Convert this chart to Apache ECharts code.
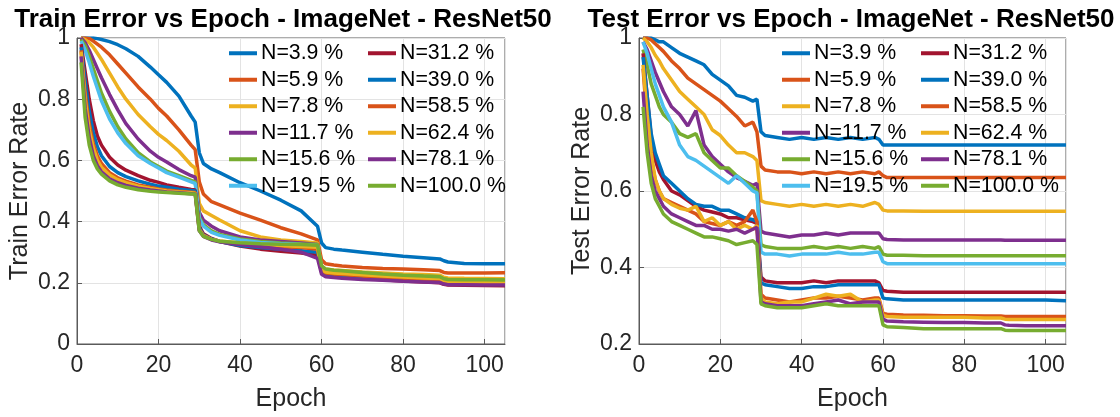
<!DOCTYPE html>
<html>
<head>
<meta charset="utf-8">
<script src="https://cdn.jsdelivr.net/npm/echarts@6/dist/echarts.min.js"></script>
<style>html,body{margin:0;padding:0;background:#fff}#c{width:1120px;height:417px}</style>
</head>
<body>
<div id="c"></div>
<script>
const NAMES = ['N=3.9 %','N=5.9 %','N=7.8 %','N=11.7 %','N=15.6 %','N=19.5 %','N=31.2 %','N=39.0 %','N=58.5 %','N=62.4 %','N=78.1 %','N=100.0 %'];
const COLORS = ['#0072BD','#D95319','#EDB120','#7E2F8E','#77AC30','#4DBEEE','#A2142F','#0072BD','#D95319','#EDB120','#7E2F8E','#77AC30'];
const X_TICKS = [0,20,40,60,80,100];

// Train error, epochs
const E_TRAIN = [1,2,3,4,5,6,8,10,12,15,18,20,22,25,28,29,30,31,33,35,40,45,50,55,59,60,61,63,65,70,75,80,85,89,90,91,95,100,105];
const TR_N3_9 = [1.0,1.0,1.0,1.0,0.998,0.995,0.988,0.978,0.965,0.94,0.905,0.88,0.855,0.81,0.745,0.725,0.625,0.59,0.572,0.56,0.527,0.5,0.47,0.435,0.385,0.33,0.315,0.31,0.307,0.3,0.293,0.287,0.282,0.278,0.272,0.268,0.263,0.262,0.262];
const TR_N5_9 = [1.0,1.0,0.998,0.99,0.98,0.97,0.945,0.915,0.885,0.84,0.8,0.77,0.745,0.7,0.65,0.635,0.53,0.49,0.465,0.455,0.428,0.405,0.38,0.36,0.34,0.275,0.262,0.258,0.255,0.25,0.247,0.245,0.243,0.24,0.234,0.232,0.232,0.232,0.233];
const TR_N7_8 = [1.0,0.995,0.985,0.97,0.95,0.93,0.885,0.84,0.8,0.75,0.71,0.685,0.665,0.63,0.585,0.575,0.46,0.435,0.42,0.405,0.37,0.35,0.34,0.335,0.33,0.255,0.245,0.242,0.24,0.235,0.232,0.229,0.227,0.225,0.218,0.216,0.215,0.214,0.213];
const TR_N11_7 = [1.0,0.985,0.96,0.93,0.9,0.87,0.815,0.765,0.72,0.67,0.63,0.61,0.595,0.57,0.55,0.545,0.43,0.405,0.385,0.37,0.35,0.34,0.335,0.33,0.325,0.25,0.24,0.237,0.235,0.23,0.226,0.222,0.22,0.218,0.21,0.208,0.207,0.206,0.205];
const TR_N15_6 = [0.995,0.975,0.94,0.9,0.86,0.82,0.76,0.71,0.67,0.625,0.595,0.58,0.565,0.55,0.535,0.53,0.415,0.39,0.37,0.358,0.343,0.335,0.33,0.327,0.325,0.25,0.24,0.237,0.235,0.23,0.226,0.223,0.221,0.22,0.212,0.21,0.209,0.209,0.208];
const TR_N19_5 = [0.99,0.96,0.92,0.875,0.835,0.795,0.735,0.69,0.655,0.615,0.59,0.575,0.56,0.545,0.53,0.525,0.41,0.385,0.365,0.355,0.34,0.332,0.328,0.325,0.322,0.248,0.238,0.235,0.233,0.228,0.224,0.221,0.219,0.218,0.21,0.208,0.207,0.207,0.206];
const TR_N31_2 = [0.98,0.89,0.8,0.73,0.68,0.65,0.61,0.585,0.568,0.55,0.535,0.528,0.52,0.512,0.505,0.503,0.385,0.36,0.345,0.335,0.32,0.31,0.303,0.297,0.29,0.235,0.225,0.222,0.22,0.215,0.21,0.206,0.203,0.2,0.195,0.193,0.192,0.191,0.19];
const TR_N39_0 = [0.97,0.86,0.76,0.69,0.645,0.615,0.58,0.56,0.547,0.533,0.522,0.516,0.512,0.506,0.502,0.5,0.38,0.357,0.343,0.335,0.322,0.315,0.31,0.305,0.3,0.238,0.228,0.225,0.223,0.218,0.214,0.211,0.208,0.206,0.2,0.198,0.198,0.197,0.197];
const TR_N58_5 = [0.96,0.82,0.72,0.655,0.615,0.59,0.56,0.543,0.532,0.52,0.512,0.507,0.503,0.499,0.496,0.495,0.375,0.355,0.342,0.336,0.327,0.322,0.318,0.315,0.31,0.242,0.232,0.229,0.227,0.222,0.218,0.215,0.212,0.21,0.204,0.202,0.201,0.2,0.2];
const TR_N62_4 = [0.955,0.8,0.7,0.64,0.6,0.578,0.552,0.537,0.527,0.516,0.508,0.504,0.5,0.497,0.494,0.493,0.373,0.354,0.342,0.337,0.33,0.326,0.322,0.319,0.316,0.245,0.235,0.232,0.23,0.226,0.222,0.219,0.216,0.214,0.207,0.205,0.204,0.203,0.203];
const TR_N78_1 = [0.94,0.77,0.675,0.615,0.583,0.563,0.54,0.527,0.518,0.509,0.503,0.5,0.497,0.494,0.491,0.49,0.37,0.352,0.34,0.334,0.325,0.318,0.31,0.3,0.28,0.228,0.22,0.217,0.215,0.211,0.208,0.205,0.203,0.201,0.196,0.194,0.194,0.193,0.193];
const TR_N100 = [0.92,0.74,0.65,0.6,0.572,0.555,0.533,0.52,0.512,0.504,0.499,0.497,0.495,0.493,0.49,0.49,0.37,0.352,0.342,0.336,0.331,0.328,0.326,0.325,0.323,0.255,0.245,0.241,0.239,0.234,0.229,0.225,0.222,0.22,0.213,0.211,0.21,0.21,0.209];

// Test error, epochs
const E_TEST = [1,2,3,4,5,6,8,10,12,14,16,18,20,22,24,26,28,29,30,31,34,37,40,43,46,49,52,55,58,59,60,61,65,70,75,80,85,89,90,91,95,100,105];
const TE_N3_9 = [1.0,1.0,1.0,0.995,0.99,0.99,0.975,0.96,0.95,0.94,0.93,0.905,0.89,0.875,0.85,0.845,0.835,0.84,0.755,0.745,0.74,0.735,0.74,0.735,0.74,0.735,0.74,0.735,0.74,0.735,0.72,0.72,0.72,0.72,0.72,0.72,0.72,0.72,0.72,0.72,0.72,0.72,0.72];
const TE_N5_9 = [1.0,1.0,0.995,0.985,0.975,0.965,0.94,0.92,0.895,0.88,0.865,0.85,0.835,0.815,0.795,0.77,0.78,0.755,0.665,0.655,0.65,0.65,0.645,0.65,0.645,0.65,0.645,0.65,0.645,0.65,0.64,0.635,0.635,0.635,0.635,0.635,0.635,0.635,0.635,0.635,0.635,0.635,0.635];
const TE_N7_8 = [1.0,0.99,0.975,0.955,0.94,0.92,0.89,0.86,0.84,0.82,0.8,0.76,0.745,0.72,0.7,0.7,0.69,0.68,0.575,0.57,0.565,0.56,0.565,0.56,0.565,0.56,0.565,0.56,0.57,0.565,0.55,0.548,0.548,0.547,0.547,0.547,0.547,0.547,0.547,0.547,0.547,0.547,0.547];
const TE_N11_7 = [0.99,0.97,0.94,0.91,0.885,0.86,0.82,0.8,0.77,0.81,0.72,0.69,0.67,0.65,0.635,0.625,0.615,0.62,0.495,0.49,0.485,0.48,0.485,0.485,0.49,0.485,0.49,0.49,0.49,0.49,0.475,0.473,0.472,0.472,0.472,0.472,0.472,0.472,0.471,0.471,0.471,0.471,0.471];
const TE_N15_6 = [0.97,0.93,0.88,0.85,0.82,0.8,0.78,0.75,0.74,0.75,0.7,0.68,0.66,0.66,0.64,0.625,0.61,0.6,0.46,0.455,0.45,0.45,0.45,0.455,0.45,0.455,0.45,0.455,0.45,0.455,0.435,0.432,0.432,0.431,0.431,0.431,0.431,0.431,0.431,0.431,0.431,0.431,0.431];
const TE_N19_5 = [0.99,0.96,0.92,0.88,0.85,0.82,0.78,0.72,0.69,0.68,0.665,0.65,0.635,0.62,0.64,0.62,0.6,0.595,0.44,0.435,0.435,0.43,0.435,0.435,0.435,0.44,0.435,0.435,0.44,0.44,0.415,0.41,0.41,0.41,0.41,0.41,0.41,0.41,0.41,0.41,0.41,0.41,0.41];
const TE_N31_2 = [0.96,0.85,0.74,0.68,0.65,0.63,0.6,0.59,0.575,0.56,0.55,0.545,0.54,0.53,0.53,0.525,0.52,0.515,0.375,0.365,0.36,0.36,0.36,0.365,0.36,0.365,0.365,0.365,0.365,0.36,0.34,0.338,0.335,0.335,0.335,0.335,0.335,0.335,0.335,0.335,0.335,0.335,0.335];
const TE_N39_0 = [0.95,0.85,0.75,0.7,0.67,0.64,0.62,0.6,0.58,0.565,0.56,0.56,0.55,0.55,0.54,0.53,0.525,0.52,0.36,0.355,0.35,0.345,0.345,0.35,0.35,0.355,0.355,0.355,0.355,0.355,0.32,0.318,0.315,0.315,0.315,0.315,0.315,0.315,0.315,0.315,0.315,0.315,0.313];
const TE_N58_5 = [0.92,0.78,0.68,0.63,0.6,0.58,0.57,0.56,0.55,0.54,0.52,0.515,0.51,0.52,0.51,0.52,0.55,0.52,0.33,0.32,0.315,0.31,0.315,0.32,0.32,0.325,0.32,0.315,0.32,0.32,0.28,0.278,0.276,0.275,0.274,0.274,0.273,0.273,0.272,0.272,0.272,0.272,0.272];
const TE_N62_4 = [0.93,0.8,0.7,0.63,0.6,0.58,0.565,0.555,0.55,0.56,0.52,0.53,0.51,0.52,0.5,0.51,0.5,0.51,0.32,0.31,0.305,0.31,0.31,0.32,0.33,0.325,0.33,0.31,0.315,0.315,0.275,0.272,0.27,0.27,0.27,0.27,0.268,0.268,0.265,0.264,0.264,0.264,0.264];
const TE_N78_1 = [0.86,0.72,0.64,0.6,0.58,0.56,0.54,0.53,0.52,0.51,0.51,0.5,0.5,0.495,0.5,0.49,0.5,0.505,0.31,0.305,0.3,0.3,0.3,0.305,0.31,0.315,0.305,0.31,0.31,0.31,0.265,0.26,0.258,0.257,0.256,0.256,0.255,0.255,0.25,0.249,0.248,0.248,0.248];
const TE_N100 = [0.82,0.7,0.62,0.58,0.56,0.54,0.52,0.51,0.5,0.49,0.48,0.48,0.475,0.47,0.46,0.465,0.47,0.46,0.305,0.3,0.295,0.295,0.295,0.3,0.305,0.3,0.3,0.3,0.3,0.3,0.25,0.245,0.243,0.24,0.24,0.24,0.24,0.24,0.236,0.235,0.235,0.235,0.235];

const TRAIN = [TR_N3_9,TR_N5_9,TR_N7_8,TR_N11_7,TR_N15_6,TR_N19_5,TR_N31_2,TR_N39_0,TR_N58_5,TR_N62_4,TR_N78_1,TR_N100];
const TEST = [TE_N3_9,TE_N5_9,TE_N7_8,TE_N11_7,TE_N15_6,TE_N19_5,TE_N31_2,TE_N39_0,TE_N58_5,TE_N62_4,TE_N78_1,TE_N100];

const FONT = "'Liberation Sans', Arial, Helvetica, sans-serif";
const TXT = '#262626';

function xAxis(gi){
  return {
    type:'value', gridIndex:gi, min:0, max:105, interval:20,
    name:'Epoch', nameLocation:'middle', nameGap:43,
    nameTextStyle:{fontFamily:FONT,fontSize:25,color:TXT},
    axisLine:{show:true,onZero:false,lineStyle:{color:'#5a5a5a',width:1}},
    axisTick:{show:true,inside:true,length:5,lineStyle:{color:'#5a5a5a'}},
    axisLabel:{fontFamily:FONT,fontSize:23,color:TXT,margin:10,showMaxLabel:false},
    splitLine:{show:true,lineStyle:{color:'#e3e3e3',width:1}}
  };
}
function yAxis(gi,min,name){
  return {
    type:'value', gridIndex:gi, min:min, max:1, interval:0.2,
    name:name, nameLocation:'middle', nameGap:44,
    nameTextStyle:{fontFamily:FONT,fontSize:25,color:TXT},
    axisLine:{show:true,lineStyle:{color:'#5a5a5a',width:1}},
    axisTick:{show:true,inside:true,length:5,lineStyle:{color:'#5a5a5a'}},
    axisLabel:{fontFamily:FONT,fontSize:23,color:TXT,margin:7,
      formatter:v=> (Math.abs(v-1)<1e-9?'1':(Math.abs(v)<1e-9?'0':v.toFixed(1)))},
    splitLine:{show:true,lineStyle:{color:'#e3e3e3',width:1}}
  };
}
function legend(left,names){
  return {
    left:left, top:40, orient:'vertical', padding:0, itemGap:0,
    icon:'rect', itemWidth:28, itemHeight:4,
    data:names,
    textStyle:{fontFamily:FONT,fontSize:21.3,color:'#000',lineHeight:26.5,padding:[0,0,0,-1]},
    selectedMode:false
  };
}

const series = [];
for(let i=0;i<12;i++){
  series.push({type:'line',name:NAMES[i],xAxisIndex:0,yAxisIndex:0,showSymbol:false,symbol:'none',
    lineStyle:{width:3.5,color:COLORS[i]},itemStyle:{color:COLORS[i]},
    data:E_TRAIN.map((e,k)=>[e,TRAIN[i][k]])});
}
for(let i=0;i<12;i++){
  series.push({type:'line',name:NAMES[i],xAxisIndex:1,yAxisIndex:1,showSymbol:false,symbol:'none',
    lineStyle:{width:3.5,color:COLORS[i]},itemStyle:{color:COLORS[i]},
    data:E_TEST.map((e,k)=>[e,TEST[i][k]])});
}

const chart = echarts.init(document.getElementById('c'),null,{renderer:'canvas'});
chart.setOption({
  animation:false,
  backgroundColor:'#fff',
  title:[
    {text:'Train Error vs Epoch - ImageNet - ResNet50',left:278,top:2,textAlign:'center',
     textStyle:{fontFamily:FONT,fontSize:26,fontWeight:'bold',color:'#000'}},
    {text:'Test Error vs Epoch - ImageNet - ResNet50',left:846,top:2,textAlign:'center',
     textStyle:{fontFamily:FONT,fontSize:26,fontWeight:'bold',color:'#000'}}
  ],
  grid:[
    {left:77,top:38,width:428,height:309,show:true,borderColor:'#5a5a5a',borderWidth:1,backgroundColor:'#fff'},
    {left:639,top:38,width:427,height:309,show:true,borderColor:'#5a5a5a',borderWidth:1,backgroundColor:'#fff'}
  ],
  xAxis:[xAxis(0),xAxis(1)],
  yAxis:[yAxis(0,0,'Train Error Rate'),yAxis(1,0.2,'Test Error Rate')],
  legend:[
    legend(229,NAMES.slice(0,6)),
    legend(368,NAMES.slice(6)),
    legend(782,NAMES.slice(0,6)),
    legend(921,NAMES.slice(6))
  ],
  series:series
});
</script>
</body>
</html>
